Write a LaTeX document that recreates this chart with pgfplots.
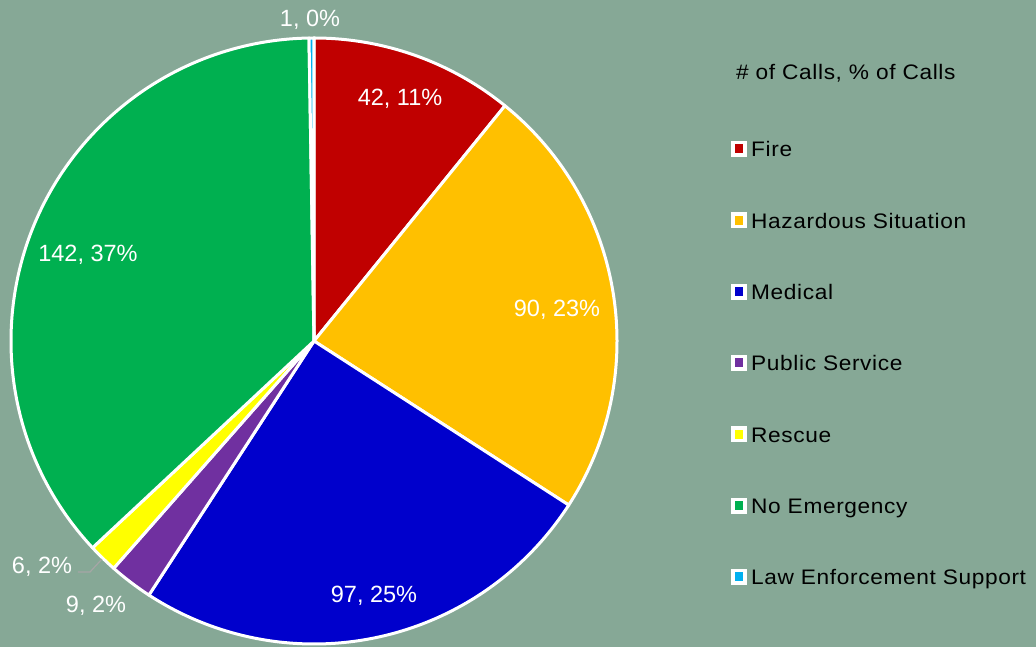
\documentclass[border=0pt]{standalone}
\usepackage{fontspec}
\setmainfont{Liberation Sans}
\newfontfamily\legfont[FakeStretch=1.08, LetterSpace=3]{Liberation Sans}
\usepackage{pgfplots}
\usepackage{pgfplotstable}
\pgfplotsset{compat=1.18}

\definecolor{bg}{HTML}{86A896}
\definecolor{fireC}{HTML}{C00000}
\definecolor{hazC}{HTML}{FFC000}
\definecolor{medC}{HTML}{0000CC}
\definecolor{pubC}{HTML}{7030A0}
\definecolor{resC}{HTML}{FFFF00}
\definecolor{noeC}{HTML}{00B050}
\definecolor{lawC}{HTML}{00B0F0}
\definecolor{leader}{HTML}{A6A6A6}

% calls per type; lx/ly = where the data label sits
\pgfplotstableread{
name value col lx ly
Fire 42 fireC 400 541
{Hazardous Situation} 90 hazC 557 330
Medical 97 medC 374 45
{Public Service} 9 pubC 96 35
Rescue 6 resC 42 74
{No Emergency} 142 noeC 88 385
{Law Enforcement Support} 1 lawC 310 620
}\calls

\tikzset{
  lbl/.style={anchor=base, text=white, inner sep=0pt, font=\fontsize{23.5bp}{28bp}\selectfont},
  leg/.style={anchor=base west, text=black, inner sep=0pt, font=\legfont\fontsize{21bp}{25bp}\selectfont},
}

\begin{document}
\begin{tikzpicture}
\begin{axis}[
    width=1036bp, height=647bp, scale only axis,
    xmin=0, xmax=1036, ymin=0, ymax=647,
    xtick=\empty, ytick=\empty,
    hide axis, clip=false,
]
\fill[bg] (axis cs:0,0) rectangle (axis cs:1036,647);

\pgfplotstablegetrowsof{\calls}
\pgfmathtruncatemacro\last{\pgfplotsretval-1}
\def\total{0}
\pgfplotsforeachungrouped \i in {0,...,\last}{%
  \pgfplotstablegetelem{\i}{value}\of\calls
  \pgfmathsetmacro\total{\total+\pgfplotsretval}%
}

% slices, clockwise from 12 o'clock
\def\start{90}
\pgfplotsforeachungrouped \i in {0,...,\last}{%
  \pgfplotstablegetelem{\i}{value}\of\calls \let\cval\pgfplotsretval
  \pgfplotstablegetelem{\i}{col}\of\calls \let\ccol\pgfplotsretval
  \pgfmathsetmacro\sweep{\cval/\total*360}%
  \edef\cmd{%
    \noexpand\fill[\ccol, draw=white, line width=3bp, line join=round]
      (axis cs:314,306) -- ++(\start:303bp)
      arc[start angle=\start, delta angle=-\sweep, radius=303bp] -- cycle;%
  }%
  \cmd
  \pgfmathsetmacro\start{\start-\sweep}%
}

% data labels and legend
\node[leg] at (axis cs:736,567) {\# of Calls, \% of Calls};
\pgfplotsforeachungrouped \i in {0,...,\last}{%
  \pgfplotstablegetelem{\i}{value}\of\calls \let\cval\pgfplotsretval
  \pgfplotstablegetelem{\i}{col}\of\calls \let\ccol\pgfplotsretval
  \pgfplotstablegetelem{\i}{name}\of\calls \let\cname\pgfplotsretval
  \pgfplotstablegetelem{\i}{lx}\of\calls \let\clx\pgfplotsretval
  \pgfplotstablegetelem{\i}{ly}\of\calls \let\cly\pgfplotsretval
  \pgfmathtruncatemacro\pct{round(\cval/\total*100)}%
  \pgfmathsetmacro\ya{490-71.3*\i}%
  \pgfmathsetmacro\yb{\ya+16}%
  \pgfmathsetmacro\yc{\ya+3.5}%
  \pgfmathsetmacro\yd{\ya+12.5}%
  \edef\cmd{%
    \noexpand\node[lbl] at (axis cs:\clx,\cly) {\cval, \pct\noexpand\%};%
    \noexpand\fill[white] (axis cs:731,\ya) rectangle (axis cs:746.5,\yb);%
    \noexpand\fill[\ccol] (axis cs:734.5,\yc) rectangle (axis cs:743,\yd);%
    \noexpand\node[leg] at (axis cs:751,\ya) {\cname};%
  }%
  \cmd
}

% leader line for the Rescue label
\draw[leader, line width=1.2bp] (axis cs:78,75) -- (axis cs:90,75) -- (axis cs:102,88);
\end{axis}
\pgfresetboundingbox
\path[use as bounding box] (current axis.south west) rectangle (current axis.north east);
\end{tikzpicture}
\end{document}
